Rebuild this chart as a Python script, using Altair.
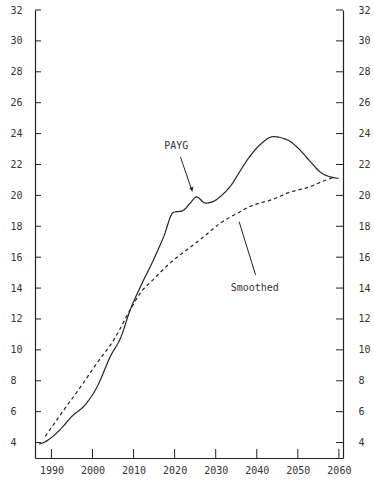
import altair as alt
import pandas as pd

# ---- data ----
payg_year = [1987.0, 1988.5, 1991.4, 1995.4, 1997.9, 2001.1, 2004.4, 2006.8, 2009.2,
             2011.7, 2014.8, 2017.3, 2019.7, 2021.9, 2023.8, 2025.3, 2027.5, 2029.4,
             2031.0, 2033.6, 2036.0, 2037.7, 2040.9, 2044.0, 2047.4, 2049.9, 2053.0,
             2055.5, 2057.9, 2059.9]
payg_val = [3.9, 4.05, 4.65, 5.8, 6.35, 7.6, 9.6, 10.75, 12.6,
            14.1, 15.8, 17.3, 18.9, 19.0, 19.5, 19.9, 19.5, 19.6,
            19.9, 20.6, 21.6, 22.3, 23.3, 23.8, 23.6, 23.1, 22.2,
            21.5, 21.2, 21.1]

smooth_year = [1988.5, 1993.0, 1997.1, 2001.1, 2005.2, 2009.2, 2011.7, 2014.8, 2019.0,
               2023.1, 2027.0, 2031.1, 2035.3, 2038.5, 2044.0, 2048.0, 2052.3, 2056.0,
               2058.5]
smooth_val = [4.4, 6.1, 7.6, 9.15, 10.65, 12.6, 13.7, 14.55, 15.65,
              16.5, 17.3, 18.2, 18.85, 19.3, 19.75, 20.2, 20.5, 20.9,
              21.15]

x_ticks = [1990, 2000, 2010, 2020, 2030, 2040, 2050, 2060]
y_ticks = [4, 6, 8, 10, 12, 14, 16, 18, 20, 22, 24, 26, 28, 30, 32]

label_text = ["PAYG", "Smoothed"]
label_year = [2020.4, 2039.5]
label_val = [23.2, 14.0]

arrow_name = ["PAYG", "PAYG", "Smoothed", "Smoothed"]
arrow_year = [2021.4, 2024.3, 2039.7, 2035.7]
arrow_val = [22.5, 20.25, 14.86, 18.3]

head_year = [2024.2]
head_val = [20.4]

# ---- layout ----
W, H = 308, 448
INK = "#222222"
FONT = "DejaVu Sans Mono"

xscale = alt.Scale(domain=[1986, 2061], nice=False, zero=False)
yscale = alt.Scale(domain=[3, 32], nice=False, zero=False)

X_AX = alt.Axis(values=x_ticks, format="d", tickSize=0, labelPadding=7,
                title=None, grid=False, domain=True)
Y_AX_L = alt.Axis(values=y_ticks, orient="left", tickSize=0, labelAlign="left",
                  labelPadding=25, title=None, grid=False, domain=True)
Y_AX_R = alt.Axis(values=y_ticks, orient="right", tickSize=0, labelPadding=15,
                  title=None, grid=False, domain=True)

lines_df = pd.DataFrame({
    "year": payg_year + smooth_year,
    "value": payg_val + smooth_val,
    "series": ["PAYG"] * len(payg_year) + ["Smoothed"] * len(smooth_year),
})
xt_df = pd.DataFrame({"year": x_ticks})
yt_df = pd.DataFrame({"value": y_ticks})
lab_df = pd.DataFrame({"text": label_text, "year": label_year, "value": label_val})
arr_df = pd.DataFrame({"name": arrow_name, "year": arrow_year, "value": arrow_val})
head_df = pd.DataFrame({"year": head_year, "value": head_val})

X = alt.X("year:Q", scale=xscale, axis=X_AX)
Y = alt.Y("value:Q", scale=yscale, axis=Y_AX_L)

lines = alt.Chart(lines_df).mark_line(color=INK, strokeWidth=1.2, interpolate="monotone").encode(
    x=X,
    y=Y,
    strokeDash=alt.StrokeDash("series:N",
                              scale=alt.Scale(domain=["PAYG", "Smoothed"], range=[[1, 0], [3.5, 3]]),
                              legend=None),
    detail="series:N",
)

x_tick_marks = alt.Chart(xt_df).mark_rule(color=INK, strokeWidth=1).encode(
    x=X,
    y=alt.value(H),
    y2=alt.value(H - 9),
)

left_tick_marks = alt.Chart(yt_df).mark_rule(color=INK, strokeWidth=1).encode(
    y=Y,
    x=alt.value(0),
    x2=alt.value(6),
)

labels = alt.Chart(lab_df).mark_text(font=FONT, fontSize=10, color="#333333").encode(
    x=X, y=Y, text="text:N",
)

arrows = alt.Chart(arr_df).mark_line(color=INK, strokeWidth=1).encode(
    x=X, y=Y, detail="name:N",
)

heads = alt.Chart(head_df).mark_point(shape="triangle-up", filled=True, size=18,
                                      angle=161, color=INK, opacity=1).encode(
    x=X, y=Y,
)

left_group = alt.layer(lines, x_tick_marks, left_tick_marks, arrows, heads, labels)

right_tick_marks = alt.Chart(yt_df).mark_rule(color=INK, strokeWidth=1).encode(
    y=alt.Y("value:Q", scale=yscale, axis=Y_AX_R),
    x=alt.value(W - 7),
    x2=alt.value(W),
)

chart = alt.layer(left_group, right_tick_marks).resolve_scale(y="independent").properties(
    width=W, height=H,
    autosize=alt.AutoSizeParams(type="none"),
    padding={"left": 35, "top": 10, "right": 31, "bottom": 28},
    background="white",
).configure_view(stroke=None).configure_axis(
    labelFont=FONT, labelFontSize=10, labelColor="#333333",
    domainColor=INK, domainWidth=1.2,
)

chart.save("out.html", embed_options={"renderer": "svg", "actions": False})
